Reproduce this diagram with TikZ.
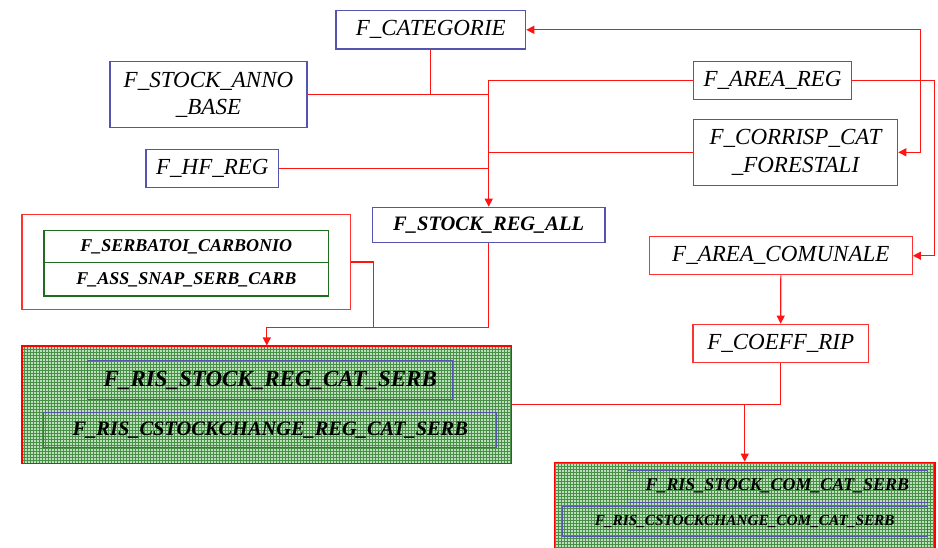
\documentclass[tikz,border=0pt]{standalone}
\usepackage{fontspec}
\setmainfont{Liberation Serif}
\usetikzlibrary{arrows.meta,patterns}
\definecolor{bbord}{RGB}{85,85,175}
\definecolor{rbord}{RGB}{255,50,50}
\definecolor{gbord}{RGB}{30,110,30}
\definecolor{gfill}{RGB}{190,222,190}
\definecolor{ggrid}{RGB}{70,145,70}
\definecolor{lred}{RGB}{255,20,20}
\tikzset{
  bluebox/.style={draw=bbord, line width=1.2pt, inner sep=0pt, align=center, font=\fontsize{23}{27.6}\selectfont\itshape},
  redbox/.style={draw=rbord, line width=1.2pt, inner sep=0pt, align=center, font=\fontsize{23}{27.6}\selectfont\itshape},
  greenbox/.style={draw=gbord, line width=1.1pt, inner sep=0pt, font=\fontsize{18}{21}\selectfont\bfseries\itshape},
  gridbox/.style={draw=red, line width=1.2pt, inner sep=0pt, preaction={fill=gfill}, pattern=grid, pattern color=ggrid},
  innerbox/.style={draw=bbord, line width=1pt, inner sep=0pt, font=\bfseries\itshape},
  conn/.style={draw=lred, line width=1.1pt},
  arr/.style={conn, -{Triangle[length=8pt,width=8pt]}},
  darr/.style={conn, {Triangle[length=8pt,width=8pt]}-{Triangle[length=8pt,width=8pt]}}
}
\begin{document}
\begin{tikzpicture}[x=1pt,y=-1pt]
\useasboundingbox (0,0) rectangle (938,547);
% big grid boxes
\node[gridbox, minimum width=489.7, minimum height=117.3] (bigL) at (266.8,404.7) {};
\node[gridbox, minimum width=380.7, minimum height=86.7] (bigR) at (744.7,505.6) {};
\node[innerbox, minimum width=364.7, minimum height=38.6, font=\fontsize{23}{27}\selectfont\bfseries\itshape] (risL1) at (270.3,380) {F\_RIS\_STOCK\_REG\_CAT\_SERB};
\node[innerbox, minimum width=452.7, minimum height=35.3, font=\fontsize{20.4}{24}\selectfont\bfseries\itshape] (risL2) at (270.3,429.7) {F\_RIS\_CSTOCKCHANGE\_REG\_CAT\_SERB};
\node[innerbox, minimum width=300, minimum height=31.7, font=\fontsize{17.9}{21}\selectfont\bfseries\itshape] (risR1) at (777.3,486.2) {F\_RIS\_STOCK\_COM\_CAT\_SERB};
\node[innerbox, minimum width=365.3, minimum height=29.7, font=\fontsize{15.3}{18}\selectfont\bfseries\itshape] (risR2) at (744.7,521.2) {F\_RIS\_CSTOCKCHANGE\_COM\_CAT\_SERB};
% container
\node[draw=rbord, line width=1.2pt, minimum width=328.7, minimum height=94.6, inner sep=0pt] (cont) at (186.3,262) {};
\node[greenbox, minimum width=284.7, minimum height=32] (serb) at (186.3,246.7) {F\_SERBATOI\_CARBONIO};
\node[greenbox, minimum width=284.7, minimum height=33.3] (ass) at (186.3,279.3) {F\_ASS\_SNAP\_SERB\_CARB};
% blue boxes
\node[bluebox, minimum width=189.7, minimum height=38.3] (cat) at (430.8,29.8) {F\_CATEGORIE};
\node[bluebox, minimum width=197, minimum height=66] (anno) at (208.5,94.7) {F\_STOCK\_ANNO\\\_BASE};
\node[bluebox, minimum width=132.7, minimum height=38] (hf) at (212.3,168.3) {F\_HF\_REG};
\node[bluebox, minimum width=158.4, minimum height=38] (areareg) at (772.5,80.7) {F\_AREA\_REG};
\node[bluebox, minimum width=204.4, minimum height=66] (corr) at (795.5,152.3) {F\_CORRISP\_CAT\\\_FORESTALI};
\node[bluebox, minimum width=232.7, minimum height=35.4, font=\fontsize{20.5}{24}\selectfont\bfseries\itshape] (sra) at (488.7,225) {F\_STOCK\_REG\_ALL};
% red boxes
\node[redbox, minimum width=263, minimum height=38] (acom) at (780.8,255.7) {F\_AREA\_COMUNALE};
\node[redbox, minimum width=175.3, minimum height=38.4] (coeff) at (780.7,343.5) {F\_COEFF\_RIP};
% connectors
\coordinate (lp1) at (920.7,29.8);
\coordinate (lp2) at (920.7,152.3);
\coordinate (r1) at (934.3,80.7);
\coordinate (j1) at (488.7,327.3);
\coordinate (j2) at (373.7,327.3);
\coordinate (j3) at (bigR.north |- bigL.east);
\draw[conn] (cat.south) |- (anno.east);
\draw[conn] (anno.east) -- (anno.east -| sra.north);
\draw[arr] (areareg.west) -| (sra.north);
\draw[conn] (corr.west) -- (corr.west -| sra.north);
\draw[conn] (hf.east) -- (hf.east -| sra.north);
\draw[darr] (cat.east) -- (lp1) -- (lp2) -- (corr.east);
\draw[arr] (areareg.east) -- (r1) |- (acom.east);
\draw[arr] (sra.south) -- (j1) -| (bigL.north);
\draw[conn] (cont.east) -| (j2);
\draw[arr] (acom.south) -- (coeff.north);
\draw[conn] (coeff.south) |- (bigL.east);
\draw[arr] (j3) -- (bigR.north);
\end{tikzpicture}
\end{document}
